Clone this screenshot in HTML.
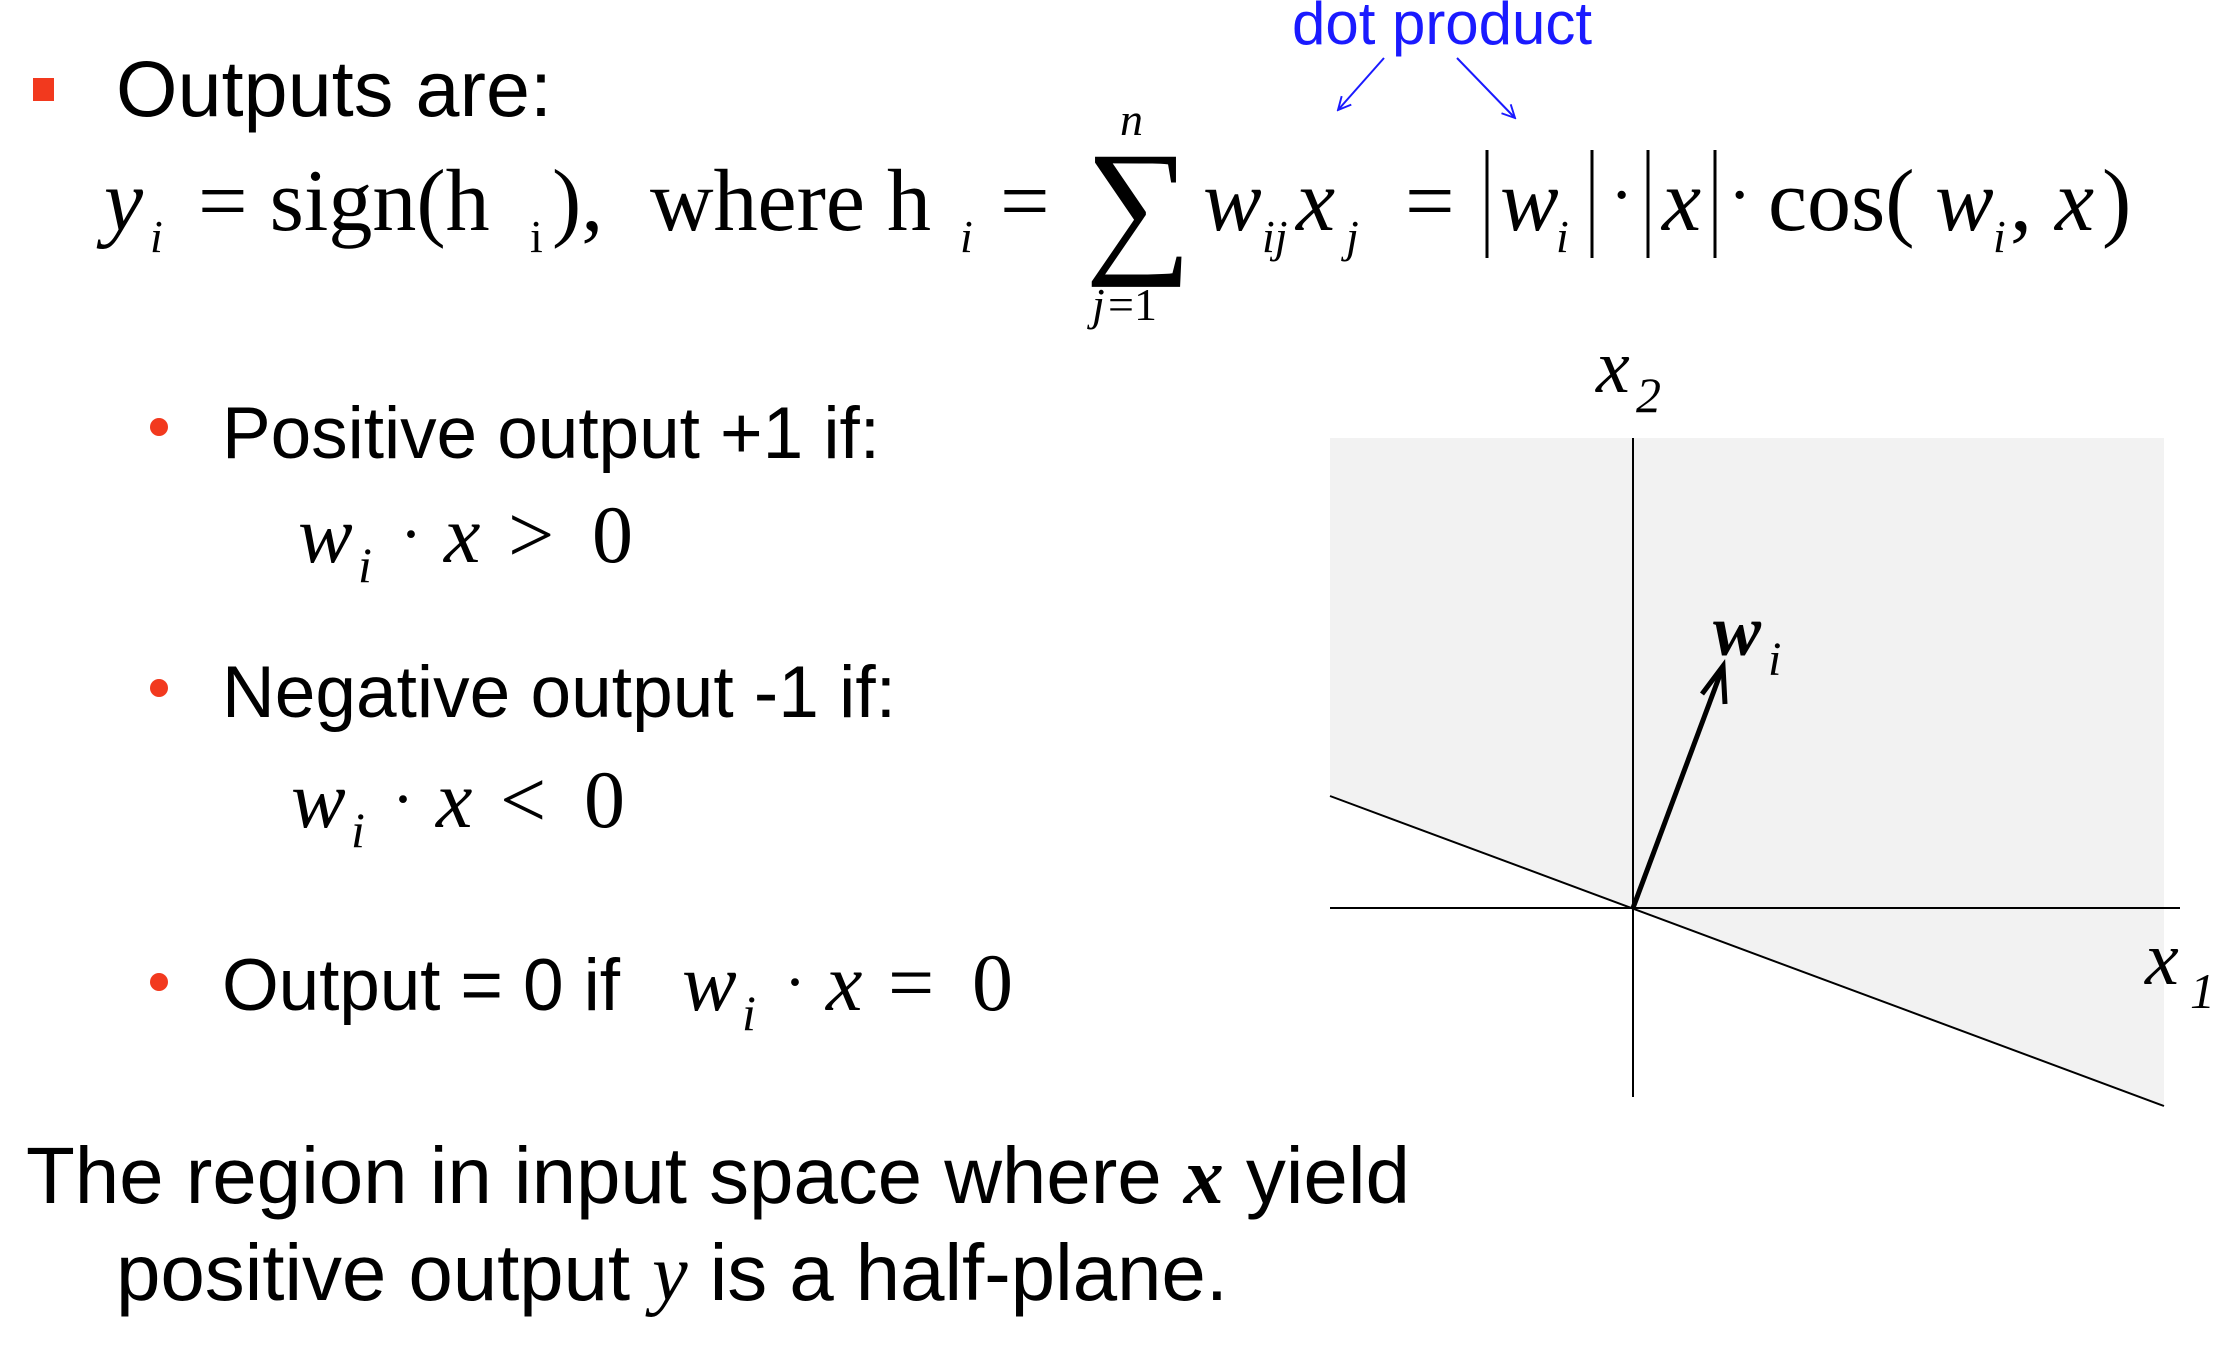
<!DOCTYPE html>
<html><head><meta charset="utf-8"><style>
html,body{margin:0;padding:0;background:#fff;}
svg{display:block}
.s{font-family:"Liberation Sans",sans-serif;fill:#000}
.m{font-family:"Liberation Serif",serif;fill:#000}
</style></head><body>
<svg width="2220" height="1366" viewBox="0 0 2220 1366">
<defs><marker id="ah" viewBox="0 0 10 10" refX="9" refY="5" markerWidth="8" markerHeight="8" orient="auto"><path d="M1,1 L9,5 L1,9" fill="none" stroke="#1a1aff" stroke-width="1.2"/></marker></defs>
<rect x="33" y="78" width="21" height="23" fill="#f2391e"/>
<text class="s" x="116" y="116" font-size="79" textLength="436">Outputs are:</text>
<text x="1292" y="44" font-size="60" fill="#1a1aff" font-family="Liberation Sans,sans-serif" textLength="300">dot product</text>
<line x1="1384" y1="58" x2="1338" y2="110" stroke="#1a1aff" stroke-width="2" marker-end="url(#ah)"/>
<line x1="1457" y1="58" x2="1515" y2="118" stroke="#1a1aff" stroke-width="2" marker-end="url(#ah)"/>
<g class="m">
<text x="104" y="230" font-size="88" font-style="italic">y</text>
<text x="150" y="252" font-size="46" font-style="italic">i</text>
<text x="198" y="230" font-size="88">= sign(h</text>
<text x="530" y="252" font-size="46">i</text>
<text x="552" y="230" font-size="88">),</text>
<text x="650" y="230" font-size="88">where h</text>
<text x="960" y="252" font-size="46" font-style="italic">i</text>
<text x="1000" y="230" font-size="88">=</text>
<text x="1085" y="255" font-size="150">∑</text>
<text x="1120" y="135" font-size="46" font-style="italic">n</text>
<text x="1092" y="320" font-size="46" font-style="italic">j</text><text x="1108" y="320" font-size="46">=1</text>
<text x="1203" y="230" font-size="88" font-style="italic">w</text>
<text x="1262" y="252" font-size="46" font-style="italic">ij</text>
<text x="1296" y="230" font-size="88" font-style="italic">x</text>
<text x="1346" y="252" font-size="46" font-style="italic">j</text>
<text x="1405" y="230" font-size="88">=</text>
<line x1="1487" y1="150" x2="1487" y2="258" stroke="#000" stroke-width="3"/>
<text x="1500" y="230" font-size="88" font-style="italic">w</text>
<text x="1556" y="252" font-size="46" font-style="italic">i</text>
<line x1="1592" y1="150" x2="1592" y2="258" stroke="#000" stroke-width="3"/>
<text x="1610" y="218" font-size="70">·</text>
<line x1="1648" y1="150" x2="1648" y2="258" stroke="#000" stroke-width="3"/>
<text x="1662" y="230" font-size="88" font-style="italic">x</text>
<line x1="1715" y1="150" x2="1715" y2="258" stroke="#000" stroke-width="3"/>
<text x="1728" y="218" font-size="70">·</text>
<text x="1768" y="230" font-size="88">cos(</text>
<text x="1935" y="230" font-size="88" font-style="italic">w</text>
<text x="1993" y="252" font-size="46" font-style="italic">i</text>
<text x="2010" y="230" font-size="88">,</text>
<text x="2055" y="230" font-size="88" font-style="italic">x</text>
<text x="2102" y="230" font-size="88">)</text>
</g>
<circle cx="159" cy="427" r="9" fill="#f2391e"/>
<text class="s" x="222" y="458" font-size="73" textLength="658">Positive output +1 if:</text>
<g class="m"><text x="298" y="562" font-size="82" font-style="italic">w</text><text x="358" y="582" font-size="50" font-style="italic">i</text><text x="400" y="556" font-size="66">·</text><text x="444" y="562" font-size="82" font-style="italic">x</text><text x="508" y="562" font-size="82">&gt;</text><text x="592" y="562" font-size="82">0</text></g>
<circle cx="159" cy="688" r="9" fill="#f2391e"/>
<text class="s" x="222" y="717" font-size="73" textLength="674">Negative output -1 if:</text>
<g class="m"><text x="291" y="827" font-size="82" font-style="italic">w</text><text x="351" y="847" font-size="50" font-style="italic">i</text><text x="392" y="821" font-size="66">·</text><text x="436" y="827" font-size="82" font-style="italic">x</text><text x="500" y="827" font-size="82">&lt;</text><text x="584" y="827" font-size="82">0</text></g>
<circle cx="159" cy="982" r="9" fill="#f2391e"/>
<text class="s" x="222" y="1010" font-size="73" textLength="398">Output = 0 if</text>
<g class="m"><text x="682" y="1010" font-size="82" font-style="italic">w</text><text x="742" y="1030" font-size="50" font-style="italic">i</text><text x="784" y="1004" font-size="66">·</text><text x="826" y="1010" font-size="82" font-style="italic">x</text><text x="888" y="1010" font-size="82">=</text><text x="972" y="1010" font-size="82">0</text></g>
<g>
<polygon points="1330,438 2164,438 2164,1106 1330,796" fill="#f2f2f2"/>
<line x1="1633" y1="438" x2="1633" y2="1097" stroke="#000" stroke-width="2"/>
<line x1="1330" y1="908" x2="2180" y2="908" stroke="#000" stroke-width="2"/>
<line x1="1330" y1="796" x2="2164" y2="1106" stroke="#000" stroke-width="2"/>
<line x1="1633" y1="908" x2="1721" y2="672" stroke="#000" stroke-width="5"/>
<polyline points="1702,694 1723,666 1725,704" fill="none" stroke="#000" stroke-width="5"/>
<text class="m" x="1713" y="655" font-size="72" font-style="italic" font-weight="bold">w</text>
<text class="m" x="1768" y="675" font-size="48" font-style="italic">i</text>
<text class="m" x="1596" y="392" font-size="76" font-style="italic">x</text>
<text class="m" x="1636" y="412" font-size="50" font-style="italic">2</text>
<text class="m" x="2145" y="984" font-size="76" font-style="italic">x</text>
<text class="m" x="2190" y="1008" font-size="50" font-style="italic">1</text>
</g>
<text class="s" x="26" y="1203" font-size="80" textLength="1384">The region in input space where <tspan font-family="Liberation Serif,serif" font-style="italic" font-weight="bold">x</tspan> yield</text>
<text class="s" x="116" y="1300" font-size="80" textLength="1112">positive output <tspan font-family="Liberation Serif,serif" font-style="italic">y</tspan> is a half-plane.</text>
</svg>
</body></html>
